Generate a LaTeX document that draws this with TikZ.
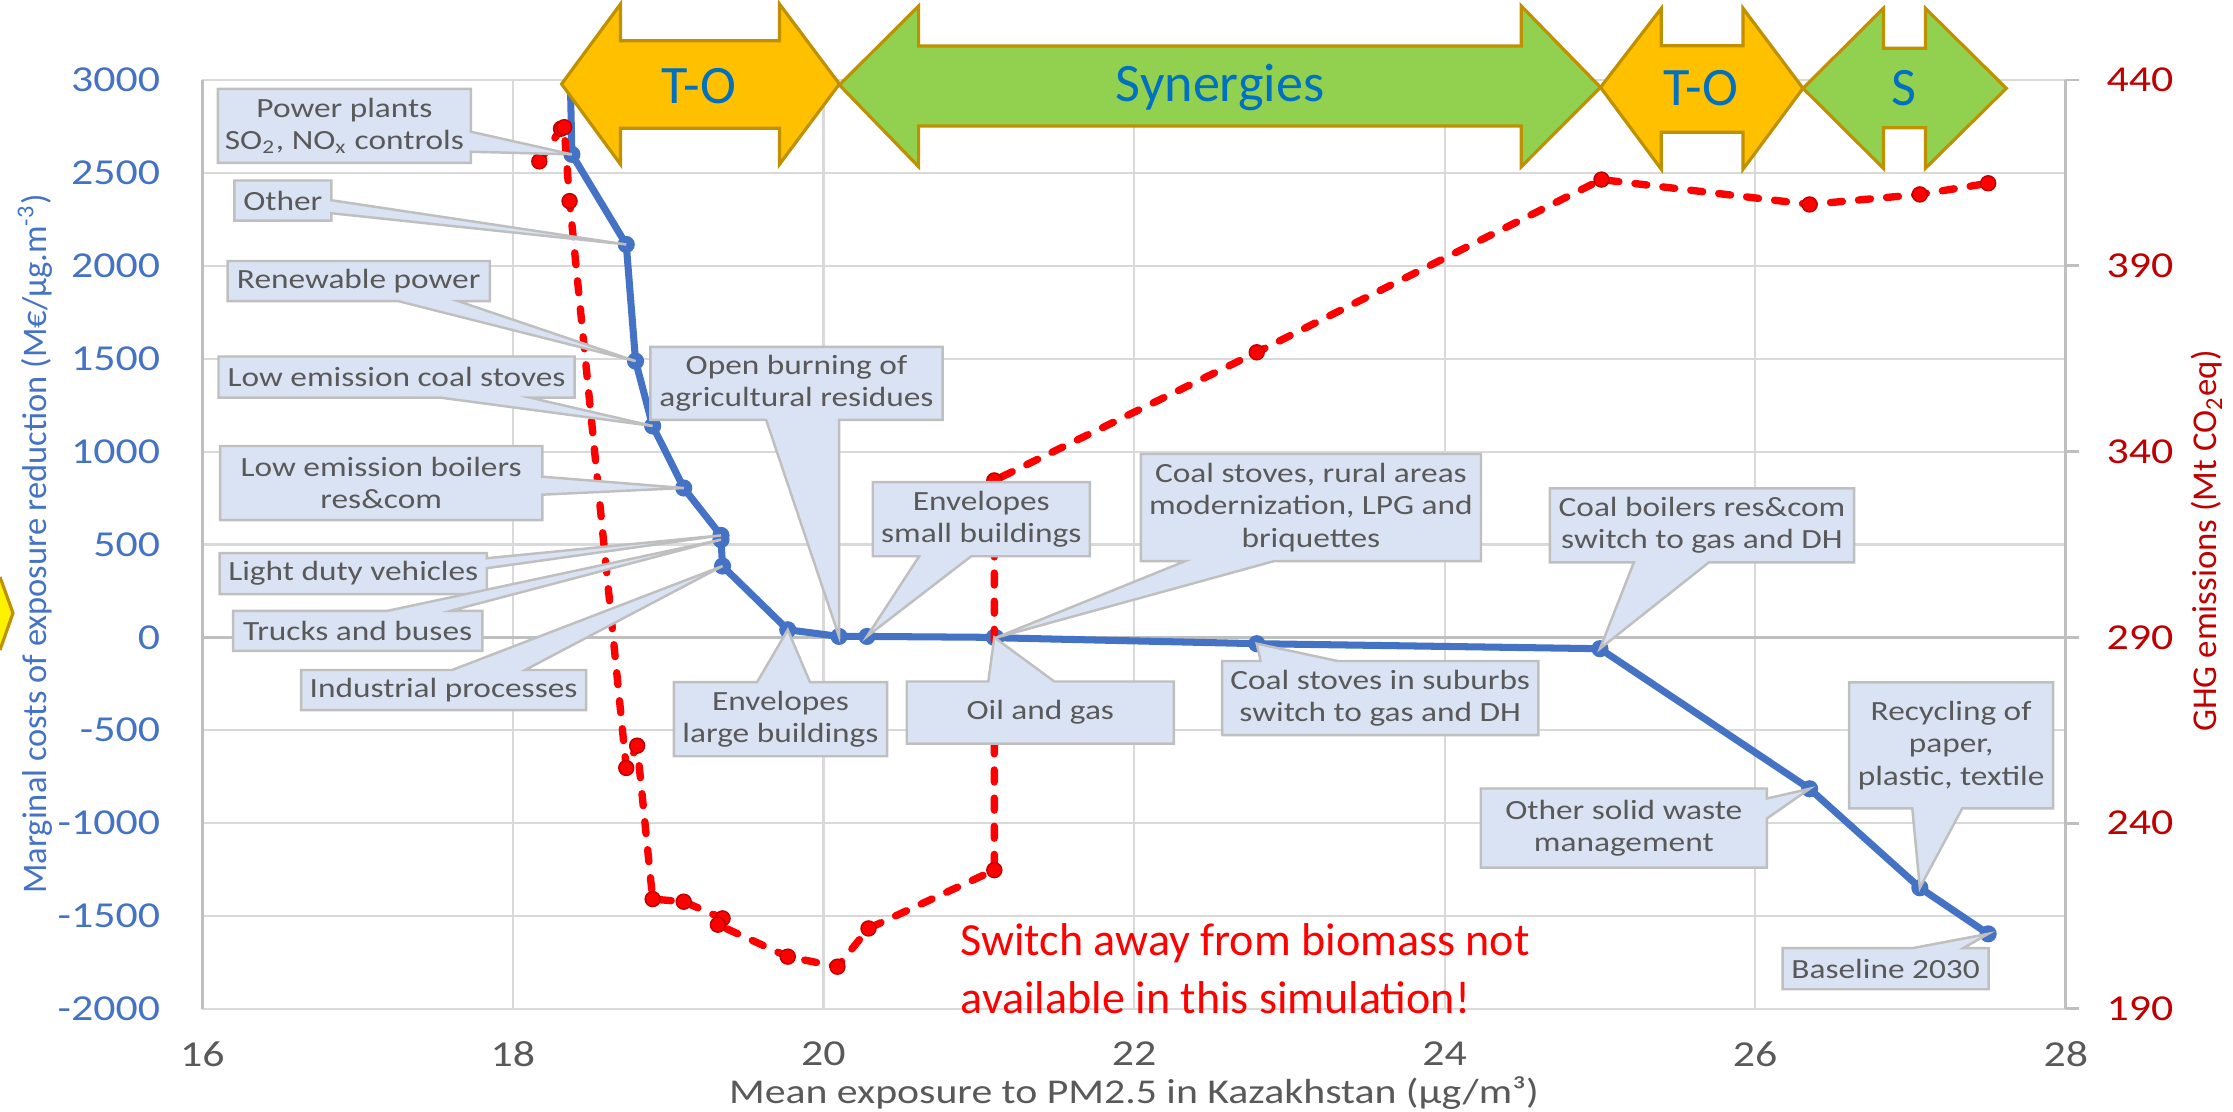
\documentclass[tikz,border=0pt]{standalone}
\usepackage{fontspec}
\setmainfont{Carlito}[FakeStretch=1.2]
\newfontfamily\plainfont{Carlito}
\usetikzlibrary{shapes.callouts,positioning,calc}

\definecolor{seriesblue}{HTML}{4472C4}
\definecolor{seriesred}{HTML}{FF0000}
\definecolor{ghgred}{HTML}{C00000}
\definecolor{gridgray}{HTML}{D9D9D9}
\definecolor{axisgray}{HTML}{BFBFBF}
\definecolor{textgray}{HTML}{595959}
\definecolor{calloutfill}{HTML}{DAE3F3}
\definecolor{tradegold}{HTML}{FFC000}
\definecolor{edgegold}{HTML}{BF9000}
\definecolor{synergygreen}{HTML}{92D050}
\definecolor{labelblue}{HTML}{0070C0}

\begin{document}
\begin{tikzpicture}[
    x=0.01cm, y=-0.01cm,
    gridline/.style={draw=gridgray, line width=0.6pt},
    axisline/.style={draw=axisgray, line width=0.8pt},
    blueline/.style={draw=seriesblue, line width=2pt, line join=round},
    redline/.style={draw=seriesred, line width=2.1pt, dash pattern=on 3.4pt off 4.6pt, line cap=round, line join=round},
    notebox/.style={rectangle callout, draw=axisgray, fill=calloutfill, line width=0.7pt, align=center, text=textgray, inner sep=0pt, font=\fontsize{7.9}{9.2}\selectfont},
    band/.style={draw=edgegold, line width=0.9pt, line join=miter},
    bandlabel/.style={text=labelblue, inner sep=0pt, font=\plainfont\fontsize{15.4}{17}\selectfont},
    ticklabel/.style={inner sep=0pt, font=\fontsize{10.4}{12}\selectfont}
]
\useasboundingbox (0,0) rectangle (2233,1111);

% plot area, blue series (left axis, in hundreds)
\begin{scope}[shift={(-22.81cm,-6.3698cm)}, x=1.552cm, y=0.18566cm]
    \foreach \v in {18,20,...,26}
        \draw[gridline] (\v,-20) -- (\v,30);
    \foreach \M in {-20,-15,...,30}
        \draw[gridline] (16,\M) -- (28,\M);
    \draw[axisline] (16,-20) -- (16,30);
    \draw[axisline] (28,-20) -- (28,30);
    \draw[axisline] (16,0) -- (28,0);
    \foreach \M in {-20,-10,...,30}
        \draw[axisline] (28,\M) -- ++(0.13cm,0);

    \foreach \M/\lab in {30/3000,25/2500,20/2000,15/1500,10/1000,5/500,0/0,-5/-500,-10/-1000,-15/-1500,-20/-2000}
        \node[ticklabel, text=seriesblue, anchor=east] (ly\lab) at ([xshift=-0.415cm]16,\M) {\lab};
    \foreach \M/\lab in {30/440,20/390,10/340,0/290,-10/240,-20/190}
        \node[ticklabel, text=ghgred, anchor=west] (ry\lab) at ([xshift=0.40cm]28,\M) {\lab};
    \foreach \v in {16,18,...,28}
        \node[ticklabel, text=textgray] (lx\v) at ([yshift=-0.45cm]\v,-20) {\v};

    \coordinate (b-top) at (18.37,29.9);
    \coordinate (b-power) at (18.38,26.00);
    \coordinate (b-other) at (18.73,21.15);
    \coordinate (b-renew) at (18.79,14.87);
    \coordinate (b-lowstove) at (18.90,11.38);
    \coordinate (b-lowboiler) at (19.10,8.04);
    \coordinate (b-ldv) at (19.34,5.49);
    \coordinate (b-trucks) at (19.34,5.26);
    \coordinate (b-industry) at (19.35,3.84);
    \coordinate (b-envlarge) at (19.77,0.41);
    \coordinate (b-openburn) at (20.10,0.05);
    \coordinate (b-envsmall) at (20.28,0.05);
    \coordinate (b-oilgas) at (21.10,0.00);
    \coordinate (b-rural) at (21.11,-0.02);
    \coordinate (b-suburb) at (22.79,-0.34);
    \coordinate (b-coalboiler) at (25.00,-0.61);
    \coordinate (b-solidwaste) at (26.35,-8.15);
    \coordinate (b-recycle) at (27.06,-13.48);
    \coordinate (b-baseline) at (27.50,-15.96);

    \draw[blueline] (b-top)
        \foreach \p in {b-power,b-other,b-renew,b-lowstove,b-lowboiler,b-ldv,b-trucks,b-industry,b-envlarge,b-openburn,b-envsmall,b-oilgas,b-rural,b-suburb,b-coalboiler,b-solidwaste,b-recycle,b-baseline} {-- (\p)};
    \foreach \p in {b-power,b-other,b-renew,b-lowstove,b-lowboiler,b-ldv,b-trucks,b-industry,b-envlarge,b-openburn,b-envsmall,b-oilgas,b-rural,b-suburb,b-coalboiler,b-solidwaste,b-recycle,b-baseline}
        \filldraw[fill=seriesblue, draw=seriesblue, line width=0.6pt] (\p) circle (0.075cm);
\end{scope}

% red series (right axis)
\begin{scope}[shift={(-22.81cm,-17.138cm)}, x=1.552cm, y=0.037132cm]
    \coordinate (r0) at (18.17,418.2);
    \coordinate (r1) at (18.31,427.0);
    \coordinate (r2) at (18.33,427.4);
    \coordinate (r3) at (18.365,407.5);
    \coordinate (r4) at (18.73,254.9);
    \coordinate (r5) at (18.80,260.9);
    \coordinate (r6) at (18.90,219.6);
    \coordinate (r7) at (19.10,218.9);
    \coordinate (r8) at (19.35,214.4);
    \coordinate (r9) at (19.32,212.7);
    \coordinate (r10) at (19.77,204.1);
    \coordinate (r11) at (20.09,201.4);
    \coordinate (r12) at (20.29,211.7);
    \coordinate (r13) at (21.10,227.4);
    \coordinate (r14) at (21.10,332.3);
    \coordinate (r15) at (22.79,366.8);
    \coordinate (r16) at (25.01,413.3);
    \coordinate (r17) at (26.35,406.6);
    \coordinate (r18) at (27.06,409.3);
    \coordinate (r19) at (27.50,412.3);

    \draw[redline] (r0) \foreach \i in {1,...,19} {-- (r\i)};
    \foreach \i in {0,...,19}
        \filldraw[fill=seriesred, draw=ghgred, line width=0.4pt] (r\i) circle (0.075cm);
\end{scope}

% data callouts
\node[notebox, minimum width=2.53cm, minimum height=0.74cm, callout absolute pointer={(b-power)}, callout pointer width=0.2cm] (c-power) at (344.4,125.9) {Power plants\\SO\textsubscript{2}, NO\textsubscript{x} controls};
\node[notebox, minimum width=0.97cm, minimum height=0.40cm, callout absolute pointer={(b-other)}, callout pointer width=0.13cm] (c-other) at (282.8,200.5) {Other};
\node[notebox, minimum width=2.62cm, minimum height=0.40cm, callout absolute pointer={(b-renew)}, callout pointer width=0.6cm] (c-renew) at (358.7,281) {Renewable power};
\node[notebox, minimum width=3.56cm, minimum height=0.41cm, callout absolute pointer={(b-lowstove)}, callout pointer width=0.9cm] (c-lowstove) at (396.6,377) {Low emission coal stoves};
\node[notebox, minimum width=3.22cm, minimum height=0.74cm, callout absolute pointer={(b-lowboiler)}, callout pointer width=0.18cm] (c-lowboiler) at (381.2,483) {Low emission boilers\\res\&com};
\node[notebox, minimum width=2.67cm, minimum height=0.41cm, callout absolute pointer={(b-ldv)}, callout pointer width=0.1cm] (c-ldv) at (353.3,573.7) {Light duty vehicles};
\node[notebox, minimum width=2.49cm, minimum height=0.40cm, callout absolute pointer={(b-trucks)}, callout pointer width=0.63cm] (c-trucks) at (357.7,630.8) {Trucks and buses};
\node[notebox, minimum width=2.85cm, minimum height=0.40cm, callout absolute pointer={(b-industry)}, callout pointer width=0.73cm] (c-industry) at (443.6,690) {Industrial processes};
\node[notebox, minimum width=2.92cm, minimum height=0.73cm, callout absolute pointer={(b-openburn)}, callout pointer width=0.73cm] (c-openburn) at (796.5,383.3) {Open burning of\\agricultural residues};
\node[notebox, minimum width=2.17cm, minimum height=0.74cm, callout absolute pointer={(b-envsmall)}, callout pointer width=0.52cm] (c-envsmall) at (981.3,519.2) {Envelopes\\small buildings};
\node[notebox, minimum width=2.13cm, minimum height=0.74cm, callout absolute pointer={(b-envlarge)}, callout pointer width=0.53cm] (c-envlarge) at (780.5,719.2) {Envelopes\\large buildings};
\node[notebox, minimum width=2.67cm, minimum height=0.62cm, callout absolute pointer={(b-oilgas)}, callout pointer width=0.66cm] (c-oilgas) at (1040.3,712.5) {Oil and gas};
\node[notebox, minimum width=3.40cm, minimum height=1.07cm, callout absolute pointer={(b-rural)}, callout pointer width=0.89cm] (c-rural) at (1310.9,507.5) {Coal stoves, rural areas\\modernization, LPG and\\briquettes};
\node[notebox, minimum width=3.16cm, minimum height=0.74cm, callout absolute pointer={(b-suburb)}, callout pointer width=0.77cm] (c-suburb) at (1380.2,698) {Coal stoves in suburbs\\switch to gas and DH};
\node[notebox, minimum width=3.04cm, minimum height=0.74cm, callout absolute pointer={(b-coalboiler)}, callout pointer width=0.75cm] (c-coalboiler) at (1702,525.3) {Coal boilers res\&com\\switch to gas and DH};
\node[notebox, minimum width=2.04cm, minimum height=1.26cm, callout absolute pointer={(b-recycle)}, callout pointer width=0.5cm] (c-recycle) at (1951.1,745.3) {Recycling of\\paper,\\plastic, textile};
\node[notebox, minimum width=2.86cm, minimum height=0.79cm, callout absolute pointer={(b-solidwaste)}, callout pointer width=0.2cm] (c-solidwaste) at (1623.8,828) {Other solid waste\\management};
\node[notebox, minimum width=2.06cm, minimum height=0.41cm, callout absolute pointer={(b-baseline)}, callout pointer width=0.51cm] (c-baseline) at (1885.6,968.7) {Baseline 2030};

% trade-off / synergy bands
\filldraw[band, fill=tradegold] (561.6,84) -- (620.5,4) -- (620.5,40.7) -- (779.5,40.7) -- (779.5,4) -- (839.4,84)
    -- (779.5,164.3) -- (779.5,128.3) -- (620.5,128.3) -- (620.5,164.3) -- cycle;
\filldraw[band, fill=synergygreen] (839.4,85) -- (918.6,6) -- (918.6,46) -- (1521.3,46) -- (1521.3,6) -- (1600.5,87.3)
    -- (1521.3,166.7) -- (1521.3,126) -- (918.6,126) -- (918.6,166.7) -- cycle;
\filldraw[band, fill=tradegold] (1600.5,87.3) -- (1661.3,8.3) -- (1661.3,45.7) -- (1743,45.7) -- (1743,8.3) -- (1803,88.3)
    -- (1743,169.3) -- (1743,132.3) -- (1661.3,132.3) -- (1661.3,169.3) -- cycle;
\filldraw[band, fill=synergygreen] (1803,88.3) -- (1883.4,8.3) -- (1883.4,48.3) -- (1925.4,48.3) -- (1925.4,8.3) -- (2006.3,88.3)
    -- (1925.4,168.3) -- (1925.4,127.7) -- (1883.4,127.7) -- (1883.4,168.3) -- cycle;
\node[bandlabel] (to-one) at (699,86) {T-O};
\node[bandlabel] (synergy) at (1220,88) {Synergies};
\node[bandlabel] (to-two) at (1701,88) {T-O};
\node[bandlabel] (syn-s) at (1904,88) {S};

% cut-off marker at the left edge
\filldraw[band, fill=yellow] (0,577) -- (13,613) -- (0,650);

% axis titles
\node[rotate=90, text=seriesblue, inner sep=0pt, font=\plainfont\fontsize{9.8}{11}\selectfont] (ytitle) at (35,544)
    {Marginal costs of exposure reduction (M€/µg.m\textsuperscript{-3})};
\node[rotate=90, text=ghgred, inner sep=0pt, font=\plainfont\fontsize{9.9}{11}\selectfont] (y2title) at (2207,541)
    {GHG emissions (Mt CO\textsubscript{2}eq)};
\node[text=textgray, inner sep=0pt, font=\fontsize{9.9}{11}\selectfont] (xtitle) at (1134,1093)
    {Mean exposure to PM2.5 in Kazakhstan (µg/m³)};

% note
\node[anchor=north west, align=left, text=seriesred, inner sep=0pt, font=\plainfont\fontsize{13.1}{16.5}\selectfont] (note) at (960,923)
    {Switch away from biomass not\\available in this simulation!};
\end{tikzpicture}
\end{document}
